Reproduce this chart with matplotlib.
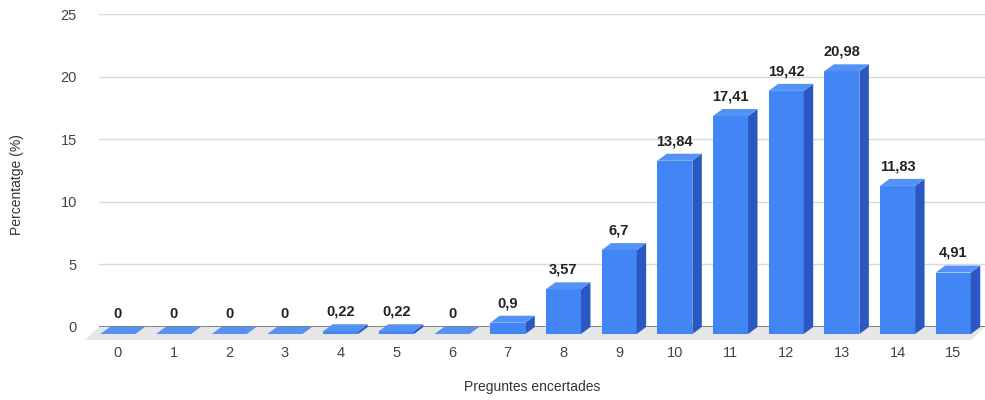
import matplotlib
matplotlib.use('Agg')
import matplotlib.pyplot as plt
from matplotlib.patches import Polygon

preguntes = list(range(16))
percentatge = [0, 0, 0, 0, 0.22, 0.22, 0, 0.9, 3.57, 6.7, 13.84, 17.41, 19.42, 20.98, 11.83, 4.91]
etiquetes = ['0', '0', '0', '0', '0,22', '0,22', '0', '0,9', '3,57', '6,7',
             '13,84', '17,41', '19,42', '20,98', '11,83', '4,91']
y_ticks = [0, 5, 10, 15, 20, 25]

# colors for the faces of the pseudo-3D bars
FRONT = '#4285f4'
SIDE = '#2a57c2'
TOP = '#5592f5'

plt.rcParams['font.family'] = 'Liberation Sans'

fig = plt.figure(figsize=(9.85, 4.0), dpi=100)
fig.patch.set_facecolor('white')
ax = fig.add_axes([99 / 985, 73 / 400, 886 / 985, 313 / 400])

x_min, x_max = -0.34, 15.57
ax.set_xlim(x_min, x_max)
ax.set_ylim(0, 25)

# depth of the bars (back face shifted right/up)
dx, dy = 0.17, 0.56
w = 0.63

# grey floor under the plot
fdx, fdy = 0.25, 1.04
floor = Polygon([(x_min, 0), (x_max, 0), (x_max - fdx, -fdy), (x_min - fdx, -fdy)],
                closed=True, facecolor='#e6e6e6', edgecolor='none', zorder=1, clip_on=False)
ax.add_patch(floor)

for y in y_ticks[1:]:
    ax.axhline(y, color='#d9d9d9', lw=1, zorder=0)
ax.axhline(0, color='#7a7a7a', lw=1.3, zorder=2)

for x, v, lab in zip(preguntes, percentatge, etiquetes):
    x0, x1 = x - w / 2, x + w / 2
    y0, y1 = -dy, v - dy
    front = Polygon([(x0, y0), (x1, y0), (x1, y1), (x0, y1)], closed=True,
                    facecolor=FRONT, edgecolor='none', zorder=3, clip_on=False)
    side = Polygon([(x1, y0), (x1 + dx, y0 + dy), (x1 + dx, y1 + dy), (x1, y1)], closed=True,
                   facecolor=SIDE, edgecolor='none', zorder=3, clip_on=False)
    top = Polygon([(x0, y1), (x1, y1), (x1 + dx, y1 + dy), (x0 + dx, y1 + dy)], closed=True,
                  facecolor=TOP, edgecolor='none', zorder=3, clip_on=False)
    for p in (front, side, top):
        ax.add_patch(p)
    ax.annotate(lab, (x, v), xytext=(0, 4), textcoords='offset points',
                ha='center', va='bottom', fontsize=10.5, fontweight='bold', color='#222222')

for s in ax.spines.values():
    s.set_visible(False)

ax.set_yticks(y_ticks)
ax.set_yticklabels([str(t) for t in y_ticks])
ax.set_xticks(preguntes)
ax.set_xticklabels([str(p) for p in preguntes])
ax.tick_params(axis='both', length=0, labelsize=10.5, labelcolor='#444444')
ax.tick_params(axis='x', pad=14)
ax.tick_params(axis='y', pad=16)

ax.set_xlabel('Preguntes encertades', fontsize=10, color='#333333')
ax.set_ylabel('Percentatge (%)', fontsize=10, color='#333333')
ax.xaxis.set_label_coords(0.5 - 10 / 886, -53 / 313)
ax.yaxis.set_label_coords(-75 / 886, 0.5 - 14 / 313)

plt.savefig('out.png', dpi=100, facecolor='white')
plt.close()
